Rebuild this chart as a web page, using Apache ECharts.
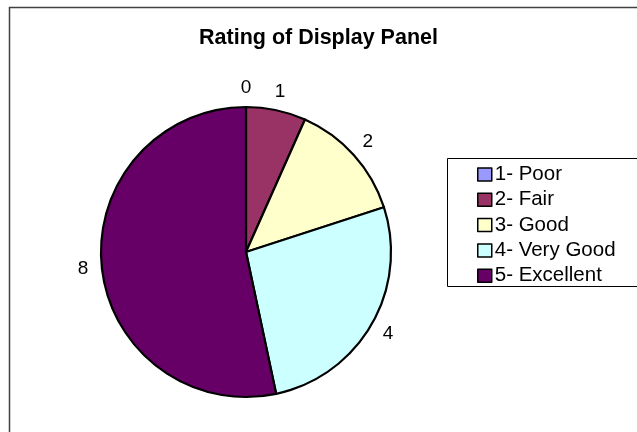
<!DOCTYPE html>
<html>
<head>
<meta charset="utf-8">
<script src="https://cdn.jsdelivr.net/npm/echarts@6/dist/echarts.min.js"></script>
<style>html,body{margin:0;padding:0;background:#fff;}#c{width:637px;height:432px;}</style>
</head>
<body>
<div id="c"></div>
<script>
const categories = ['1- Poor', '2- Fair', '3- Good', '4- Very Good', '5- Excellent'];
const values = [0, 1, 2, 4, 8];
const colors = ['#9999FF', '#993366', '#FFFFCC', '#CCFFFF', '#660066'];
const titleText = 'Rating of Display Panel';

const chart = echarts.init(document.getElementById('c'), null, {renderer: 'canvas'});
const font = '"Liberation Sans", Arial, sans-serif';
chart.setOption({
  animation: false,
  backgroundColor: '#fff',
  title: {
    text: titleText, left: 'center', top: 22,
    textStyle: {fontFamily: font, fontWeight: 'bold', fontSize: 21.5, color: '#000'}
  },
  graphic: [
    {type: 'rect', shape: {x: 9.5, y: 7.5, width: 700, height: 500}, style: {fill: 'none', stroke: '#404040', lineWidth: 1.5}, silent: true, z: -1},
    {type: 'rect', shape: {x: 447.5, y: 158.5, width: 250, height: 128}, style: {fill: '#fff', stroke: '#000', lineWidth: 1}, silent: true, z: 0}
  ],
  legend: {
    orient: 'vertical', left: 472, top: 159, z: 5,
    itemWidth: 14, itemHeight: 13, itemGap: 4.3, icon: 'rect',
    data: categories,
    textStyle: {fontFamily: font, fontSize: 20.5, color: '#000', lineHeight: 20, padding: [0, 0, 0, -2]},
    itemStyle: {borderColor: '#000', borderWidth: 1.5}
  },
  series: [{
    type: 'pie',
    center: [246, 252], radius: 145,
    startAngle: 90, clockwise: true,
    avoidLabelOverlap: false,
    data: categories.map((c, i) => ({name: c, value: values[i], itemStyle: {color: colors[i]}})),
    itemStyle: {borderColor: '#000', borderWidth: 2.2},
    label: {show: true, position: 'outside', formatter: '{c}', fontFamily: font, fontSize: 19, color: '#000', distanceToLabelLine: -5.3},
    labelLine: {show: false, length: 19, length2: 0},
    labelLayout: {fontSize: 19},
    emphasis: {disabled: true}
  }]
});
</script>
</body>
</html>
